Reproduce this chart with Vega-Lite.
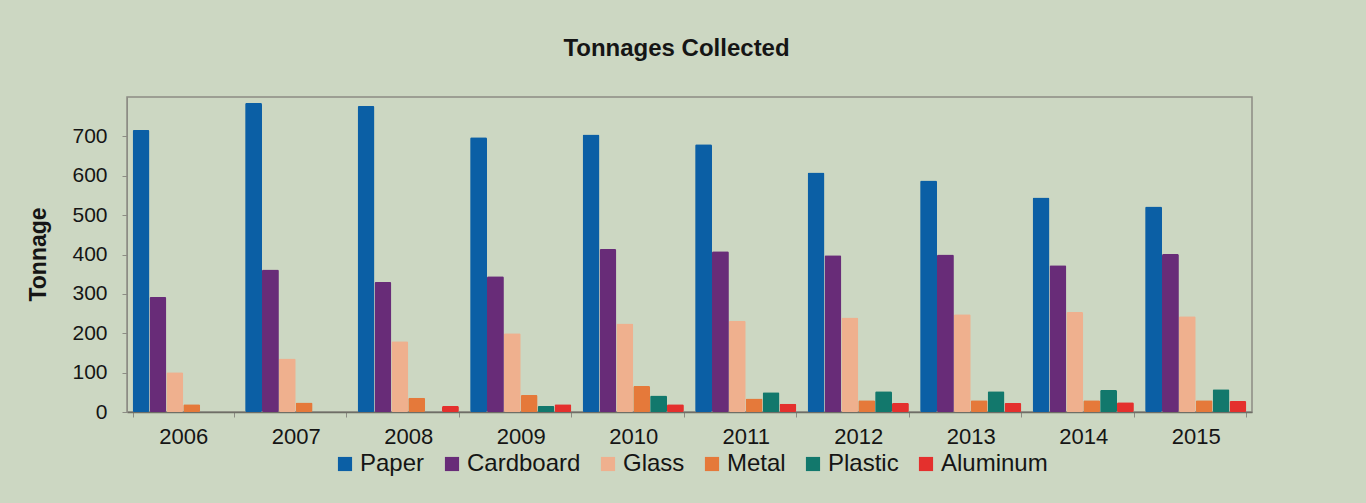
{
  "$schema": "https://vega.github.io/schema/vega-lite/v6.json",
  "autosize": {"type": "none"},
  "width": 1125,
  "height": 315,
  "padding": {"left": 127, "top": 97, "right": 114, "bottom": 91},
  "background": "#ccd7c2",
  "title": {
    "text": "Tonnages Collected",
    "fontSize": 24,
    "fontWeight": "bold",
    "font": "Liberation Sans",
    "color": "#151515",
    "anchor": "middle",
    "dx": -13,
    "offset": 36
  },
  "config": {
    "view": {"stroke": "#8c8c84", "strokeWidth": 1.5, "fill": "#ccd7c2"},
    "font": "Liberation Sans"
  },
  "data": {
    "values": [
      {"year": "2006", "material": "Paper", "tonnage": 716},
      {"year": "2006", "material": "Cardboard", "tonnage": 292},
      {"year": "2006", "material": "Glass", "tonnage": 101},
      {"year": "2006", "material": "Metal", "tonnage": 20},
      {"year": "2006", "material": "Plastic", "tonnage": 0},
      {"year": "2006", "material": "Aluminum", "tonnage": 0},
      {"year": "2007", "material": "Paper", "tonnage": 785},
      {"year": "2007", "material": "Cardboard", "tonnage": 362},
      {"year": "2007", "material": "Glass", "tonnage": 136},
      {"year": "2007", "material": "Metal", "tonnage": 24},
      {"year": "2007", "material": "Plastic", "tonnage": 0},
      {"year": "2007", "material": "Aluminum", "tonnage": 0},
      {"year": "2008", "material": "Paper", "tonnage": 777},
      {"year": "2008", "material": "Cardboard", "tonnage": 330},
      {"year": "2008", "material": "Glass", "tonnage": 180},
      {"year": "2008", "material": "Metal", "tonnage": 36},
      {"year": "2008", "material": "Plastic", "tonnage": 0},
      {"year": "2008", "material": "Aluminum", "tonnage": 15},
      {"year": "2009", "material": "Paper", "tonnage": 698},
      {"year": "2009", "material": "Cardboard", "tonnage": 345},
      {"year": "2009", "material": "Glass", "tonnage": 200},
      {"year": "2009", "material": "Metal", "tonnage": 43},
      {"year": "2009", "material": "Plastic", "tonnage": 15},
      {"year": "2009", "material": "Aluminum", "tonnage": 20},
      {"year": "2010", "material": "Paper", "tonnage": 705},
      {"year": "2010", "material": "Cardboard", "tonnage": 414},
      {"year": "2010", "material": "Glass", "tonnage": 225},
      {"year": "2010", "material": "Metal", "tonnage": 66},
      {"year": "2010", "material": "Plastic", "tonnage": 42},
      {"year": "2010", "material": "Aluminum", "tonnage": 20},
      {"year": "2011", "material": "Paper", "tonnage": 680},
      {"year": "2011", "material": "Cardboard", "tonnage": 408},
      {"year": "2011", "material": "Glass", "tonnage": 232},
      {"year": "2011", "material": "Metal", "tonnage": 34},
      {"year": "2011", "material": "Plastic", "tonnage": 50},
      {"year": "2011", "material": "Aluminum", "tonnage": 21},
      {"year": "2012", "material": "Paper", "tonnage": 608},
      {"year": "2012", "material": "Cardboard", "tonnage": 398},
      {"year": "2012", "material": "Glass", "tonnage": 240},
      {"year": "2012", "material": "Metal", "tonnage": 30},
      {"year": "2012", "material": "Plastic", "tonnage": 53},
      {"year": "2012", "material": "Aluminum", "tonnage": 23},
      {"year": "2013", "material": "Paper", "tonnage": 588},
      {"year": "2013", "material": "Cardboard", "tonnage": 400},
      {"year": "2013", "material": "Glass", "tonnage": 248},
      {"year": "2013", "material": "Metal", "tonnage": 30},
      {"year": "2013", "material": "Plastic", "tonnage": 53},
      {"year": "2013", "material": "Aluminum", "tonnage": 23},
      {"year": "2014", "material": "Paper", "tonnage": 545},
      {"year": "2014", "material": "Cardboard", "tonnage": 373},
      {"year": "2014", "material": "Glass", "tonnage": 254},
      {"year": "2014", "material": "Metal", "tonnage": 30},
      {"year": "2014", "material": "Plastic", "tonnage": 56},
      {"year": "2014", "material": "Aluminum", "tonnage": 25},
      {"year": "2015", "material": "Paper", "tonnage": 522},
      {"year": "2015", "material": "Cardboard", "tonnage": 401},
      {"year": "2015", "material": "Glass", "tonnage": 243},
      {"year": "2015", "material": "Metal", "tonnage": 30},
      {"year": "2015", "material": "Plastic", "tonnage": 58},
      {"year": "2015", "material": "Aluminum", "tonnage": 28}
    ]
  },
  "mark": {"type": "bar", "cornerRadius": 1.5},
  "encoding": {
    "x": {
      "field": "year",
      "type": "nominal",
      "scale": {"paddingInner": 0.1, "paddingOuter": 0.05},
      "axis": {
        "title": null,
        "labelAngle": 0,
        "labelFontSize": 22,
        "labelColor": "#151515",
        "labelPadding": 9,
        "tickBand": "extent",
        "tickSize": 5,
        "tickColor": "#8c8c84",
        "domainColor": "#6e6e66",
        "domainWidth": 1.5
      }
    },
    "xOffset": {
      "field": "material",
      "type": "nominal",
      "sort": ["Paper", "Cardboard", "Glass", "Metal", "Plastic", "Aluminum"]
    },
    "y": {
      "field": "tonnage",
      "type": "quantitative",
      "scale": {"domain": [0, 800], "nice": false},
      "axis": {
        "title": "Tonnage",
        "titleFontSize": 23,
        "titleFontWeight": "bold",
        "titleColor": "#151515",
        "titleX": -89,
        "titleY": 157,
        "titleAngle": 270,
        "titleAlign": "center",
        "titleBaseline": "middle",
        "values": [0, 100, 200, 300, 400, 500, 600, 700],
        "labelFontSize": 21,
        "labelColor": "#151515",
        "labelPadding": 15,
        "tickSize": 5,
        "tickColor": "#8c8c84",
        "grid": false,
        "domainColor": "#8c8c84"
      }
    },
    "color": {
      "field": "material",
      "type": "nominal",
      "sort": ["Paper", "Cardboard", "Glass", "Metal", "Plastic", "Aluminum"],
      "scale": {
        "domain": ["Paper", "Cardboard", "Glass", "Metal", "Plastic", "Aluminum"],
        "range": ["#0b5fa5", "#682c78", "#efb08e", "#e5793a", "#12786c", "#e4302d"]
      },
      "legend": {
        "title": null,
        "orient": "none",
        "direction": "horizontal",
        "legendX": 206,
        "legendY": 355,
        "symbolType": "square",
        "symbolSize": 200,
        "symbolStrokeWidth": 0,
        "labelFontSize": 24,
        "labelColor": "#151515",
        "labelOffset": 3,
        "columnPadding": 15
      }
    }
  }
}
